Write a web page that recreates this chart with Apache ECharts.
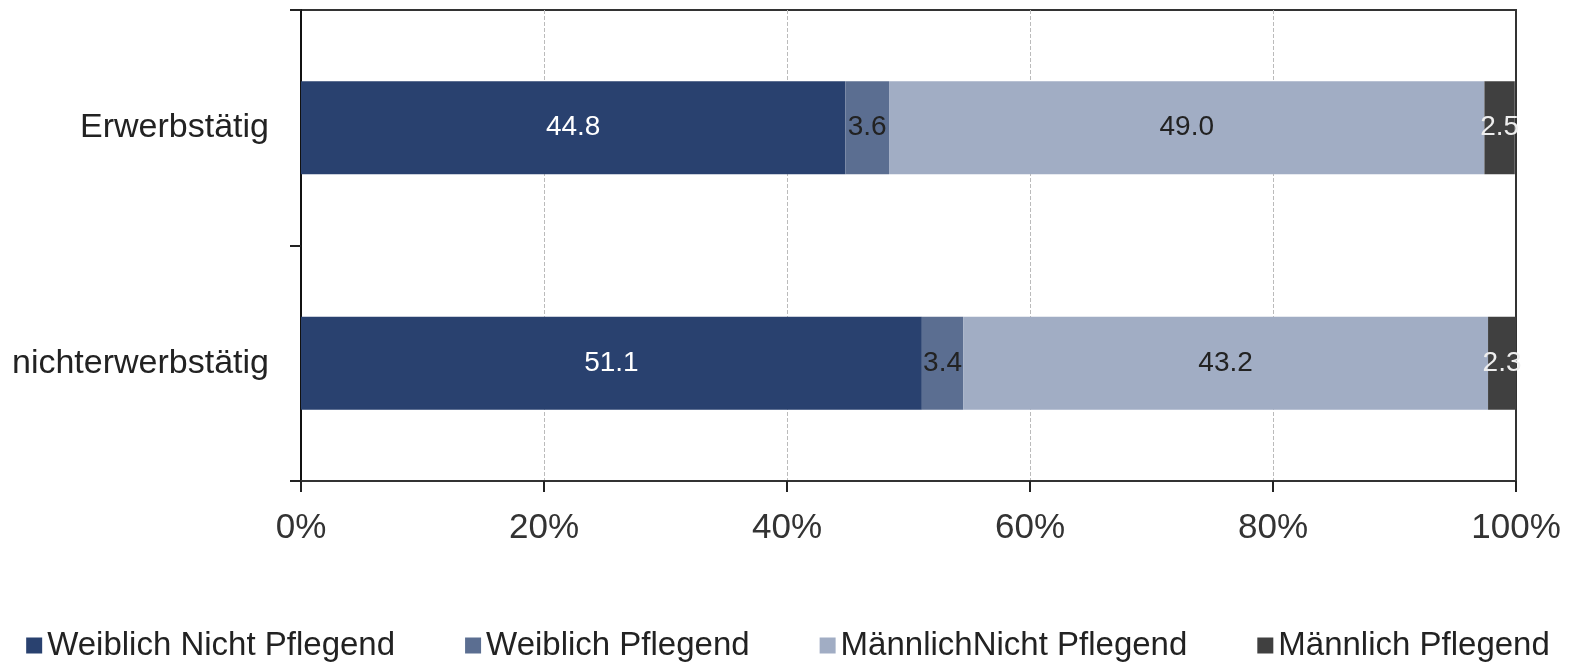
<!DOCTYPE html>
<html>
<head>
<meta charset="utf-8">
<script src="https://cdn.jsdelivr.net/npm/echarts@6/dist/echarts.min.js"></script>
<style>
  html, body { margin: 0; padding: 0; background: #fff; }
  #chart { width: 1576px; height: 663px; }
</style>
</head>
<body>
<div id="chart"></div>
<script>
// Kategorien (von oben nach unten)
const categories = ['Erwerbstätig', 'nichterwerbstätig'];

// Anteile in %
const weiblichNichtPflegend = [44.8, 51.1];
const weiblichPflegend = [3.6, 3.4];
const maennlichNichtPflegend = [49.0, 43.2];
const maennlichPflegend = [2.5, 2.3];

const seriesNames = ['Weiblich Nicht Pflegend', 'Weiblich Pflegend', 'MännlichNicht Pflegend', 'Männlich Pflegend'];
const seriesColors = ['#29416F', '#5B6E91', '#A1ADC4', '#404040'];
const labelColors = ['#ffffff', '#222222', '#222222', '#eeeeee'];
const seriesData = [weiblichNichtPflegend, weiblichPflegend, maennlichNichtPflegend, maennlichPflegend];

const fontFamily = '"Liberation Sans", Arial, sans-serif';

const chart = echarts.init(document.getElementById('chart'));

chart.setOption({
  animation: false,
  textStyle: { fontFamily: fontFamily },
  grid: {
    left: 301,
    right: 60,
    top: 10,
    bottom: 182,
    show: true,
    borderColor: '#333',
    borderWidth: 2,
    backgroundColor: 'transparent'
  },
  legend: {
    top: 624,
    left: 'center',
    icon: 'rect',
    itemWidth: 16,
    itemHeight: 16,
    itemGap: 70,
    textStyle: { fontSize: 33, color: '#222', fontFamily: fontFamily },
    data: seriesNames
  },
  xAxis: {
    type: 'value',
    min: 0,
    max: 100,
    interval: 20,
    axisLine: { show: true, lineStyle: { color: '#333', width: 2 } },
    axisTick: { show: true, length: 11, lineStyle: { color: '#222', width: 2 } },
    axisLabel: { formatter: '{value}%', fontSize: 35, color: '#333', margin: 30 },
    splitLine: {
      show: true,
      showMinLine: false,
      showMaxLine: false,
      lineStyle: { color: '#bbb', type: 'dashed', width: 1 }
    }
  },
  yAxis: {
    type: 'category',
    inverse: true,
    data: categories,
    axisLine: { show: true, lineStyle: { color: '#111', width: 2 } },
    axisTick: { show: true, length: 11, lineStyle: { color: '#222', width: 2 } },
    axisLabel: { fontSize: 34, color: '#222', margin: 32 }
  },
  series: seriesNames.map((name, i) => ({
    name: name,
    type: 'bar',
    stack: 'total',
    barWidth: 93,
    data: seriesData[i],
    itemStyle: { color: seriesColors[i] },
    label: {
      show: true,
      position: 'inside',
      fontSize: 28,
      color: labelColors[i],
      formatter: (p) => p.value.toFixed(1)
    }
  }))
});
</script>
</body>
</html>
